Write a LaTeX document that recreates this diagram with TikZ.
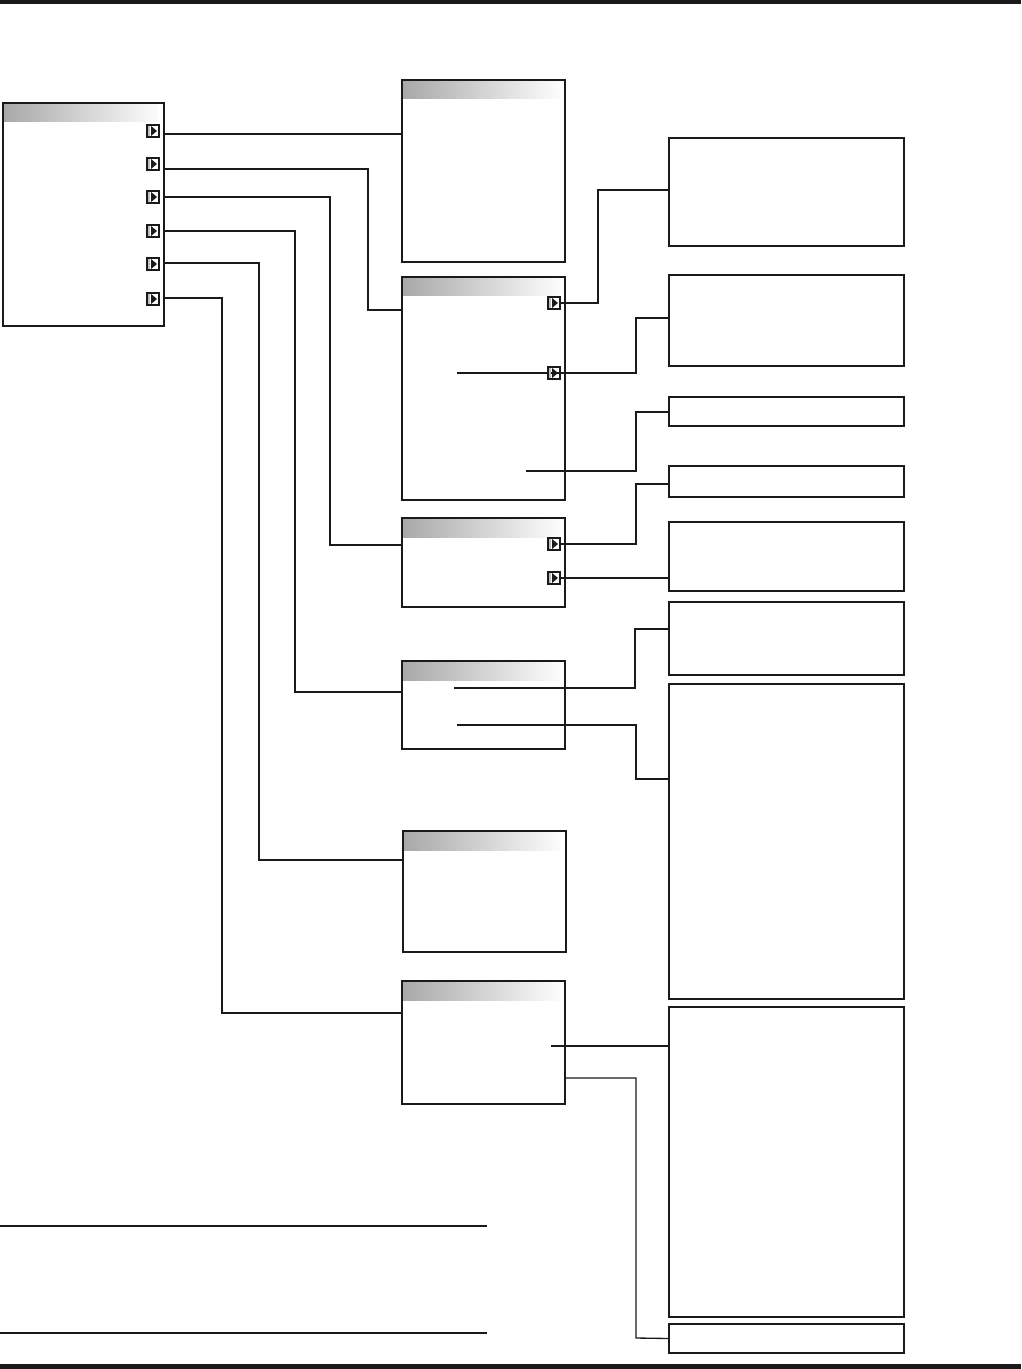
\documentclass[tikz,border=0pt]{standalone}
\usepackage{xcolor}
\definecolor{cLine}{HTML}{1A1A1A}
\definecolor{cHead}{HTML}{A8A8A8}
\usepackage{tikz}
\usetikzlibrary{fit,calc}
\tikzset{
  node-menu/.style={draw=cLine,line width=1.1pt,inner sep=0pt,
    path picture={\shade[left color=cHead,right color=white]
      (path picture bounding box.north west) rectangle
      ($(path picture bounding box.north east)+(-5,19)$);}},
  node-sub/.style={draw=cLine,line width=1.1pt,inner sep=0pt},
  % small submenu marker: framed square with a black triangle
  node-icon/.style={draw=cLine,line width=0.8pt,minimum size=9pt,inner sep=0pt,
    path picture={\fill[black!25] (path picture bounding box.north west)
      rectangle ($(path picture bounding box.south west)+(3,0)$);
      \fill[cLine] ($(path picture bounding box.center)+(-2,-5)$)
      -- ++(0,10) -- ++(6,-5) -- cycle;}},
  link/.style={draw=cLine,line width=1pt},
  link-thick/.style={draw=cLine,line width=2.2pt},
  rule/.style={draw=cLine,line width=1.1pt},
}
\begin{document}
\begin{tikzpicture}[x=0.75pt,y=-0.75pt]
  \useasboundingbox (0,0) rectangle (1021,1369);
  \fill[cLine] (0,0) rectangle (1021,4);
  \fill[cLine] (0,1364) rectangle (1021,1369);

  % main menu and its submenus
  \node[node-menu,fit={(3,103)(164,326)}]   (main) {};
  \foreach \y [count=\i] in {131,164,197,231,264,299}
    \node[node-icon] (m\i) at (153,\y) {};
  \node[node-menu,fit={(402,80)(565,262)}]   (A) {};
  \node[node-menu,fit={(402,277)(565,500)}]  (B) {};
  \node[node-menu,fit={(402,518)(565,607)}]  (C) {};
  \node[node-menu,fit={(402,661)(565,749)}]  (D) {};
  \node[node-menu,fit={(403,831)(566,952)}]  (E) {};
  \node[node-menu,fit={(402,981)(565,1104)}] (F) {};

  % right-hand boxes
  \foreach \n/\t/\b in {R1/138/246,R2/275/366,R3/397/426,R4/466/497,R5/522/591,
                        R6/602/675,R7/684/999,R8/1007/1317,R9/1324/1353}
    \node[node-sub,fit={(669,\t)(904,\b)}] (\n) {};

  \coordinate (b2-in) at (457,373);
  \coordinate (b3-in) at (526,471);
  \coordinate (d1-in) at (454,688);
  \coordinate (d2-in) at (457,725);
  \coordinate (f1-in) at (551,1046);

  \draw[link] (main.east |- 0,134) -- (A.west |- 0,134);
  \draw[link] (main.east |- 0,169) -| (368,310) -- (B.west |- 0,310);
  \draw[link-thick] (main.east |- 0,169) -- (368,169);
  \draw[link] (main.east |- 0,197) -| (330,545) -- (C.west |- 0,545);
  \draw[link] (main.east |- 0,231) -| (295,692) -- (D.west |- 0,692);
  \draw[link] (main.east |- 0,263) -| (259,860) -- (E.west |- 0,860);
  \draw[link] (main.east |- 0,298) -| (222,1013) -- (F.west |- 0,1013);

  \draw[link] (b2-in) -| (636,318) -- (R2.west |- 0,318);
  \draw[link] (b3-in) -| (636,412) -- (R3.west |- 0,412);
  \draw[link] (d1-in) -| (635,629) -- (R6.west |- 0,629);
  \draw[link] (d2-in) -| (636,779) -- (R7.west |- 0,779);
  \draw[link-thick] (f1-in) -- (R8.west |- f1-in);
  \draw[link] (F.east |- 0,1078) -| (636,1338) -- (R9.west);

  \node[node-icon] (b1) at (554,303) {};
  \node[node-icon] (b2) at (554,373) {};
  \node[node-icon] (c1) at (554,544) {};
  \node[node-icon] (c2) at (554,578) {};
  \draw[link] (b1.east) -| (598,190) -- (R1.west |- 0,190);
  \draw[link] (c1.east) -| (636,484) -- (R4.west |- 0,484);
  \draw[link] (c2.east) -- (R5.west |- c2);

  \draw[rule] (0,1226) -- (487,1226);
  \draw[rule] (0,1333) -- (487,1333);
\end{tikzpicture}
\end{document}
